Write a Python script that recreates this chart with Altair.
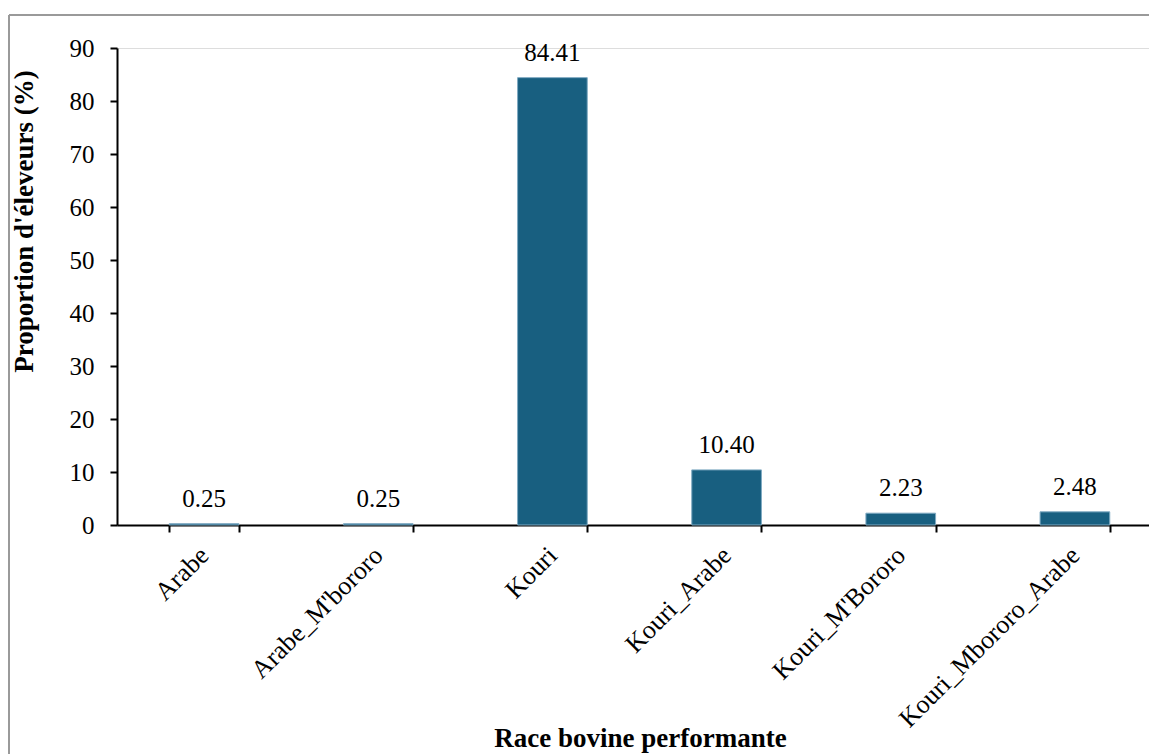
import altair as alt
import pandas as pd

categories = ["Arabe", "Arabe_M'bororo", "Kouri", "Kouri_Arabe", "Kouri_M'Bororo", "Kouri_Mbororo_Arabe"]
values = [0.25, 0.25, 84.41, 10.40, 2.23, 2.48]
y_ticks = [0, 10, 20, 30, 40, 50, 60, 70, 80, 90]

df = pd.DataFrame({"race": categories, "prop": values})

FONT = "Liberation Serif"
BAR = "#185F80"

x_enc = alt.X(
    "race:N",
    sort=categories,
    scale=alt.Scale(range=[0, 1045], paddingInner=0.6, paddingOuter=0.3),
    axis=alt.Axis(
        title="Race bovine performante",
        labelAngle=-45,
        labelAlign="right",
        labelBaseline="middle",
        labelFontSize=26,
        labelFont=FONT,
        labelColor="black",
        labelPadding=19,
        labelOverlap=False,
        labelBound=False,
        labelFlush=False,
        labelLimit=0,
        tickBand="extent",
        tickSize=7,
        tickWidth=2,
        tickColor="black",
        domainColor="black",
        domainWidth=2,
        titleFont=FONT,
        titleFontSize=27,
        titleFontWeight="bold",
        titleColor="black",
        titleX=523,
        titleY=221,
        titleBaseline="alphabetic",
        titleAnchor="middle",
        titleAlign="center",
    ),
)

y_enc = alt.Y(
    "prop:Q",
    scale=alt.Scale(domain=[0, 90], nice=False),
    axis=alt.Axis(
        title="Proportion d'éleveurs (%)",
        values=y_ticks,
        grid=False,
        labelFontSize=25,
        labelFont=FONT,
        labelColor="black",
        labelPadding=16,
        tickSize=7,
        tickWidth=2,
        tickColor="black",
        domainColor="black",
        domainWidth=2,
        titleFont=FONT,
        titleFontSize=27,
        titleFontWeight="bold",
        titleColor="black",
        titleX=-79,
        titleY=173,
        titleAnchor="middle",
        titleAlign="center",
    ),
)

bars = alt.Chart(df).mark_bar(color=BAR, stroke="#7FAAC2", strokeWidth=1).encode(x=x_enc, y=y_enc)

labels = alt.Chart(df).mark_text(
    font=FONT, fontSize=25, color="black", baseline="alphabetic", dy=-17
).encode(
    x=alt.X("race:N", sort=categories),
    y="prop:Q",
    text=alt.Text("prop:Q", format=".2f"),
)

border_top = alt.Chart(df).mark_rule(color="#9a9a9a", strokeWidth=2).encode(
    x=alt.value(-108), x2=alt.value(1100), y=alt.value(-33)
)
border_left = alt.Chart(df).mark_rule(color="#9a9a9a", strokeWidth=2).encode(
    x=alt.value(-108), y=alt.value(-33), y2=alt.value(800)
)

chart = (
    alt.layer(border_top, border_left, bars, labels)
    .properties(
        width=1032,
        height=477,
        autosize=alt.AutoSizeParams(type="none"),
        padding={"left": 109, "top": 40, "right": 0, "bottom": 231},
    )
    .configure_view(stroke=None)
    .configure(background="white")
)

chart.save("out.html", embed_options={"renderer": "svg", "actions": False})
